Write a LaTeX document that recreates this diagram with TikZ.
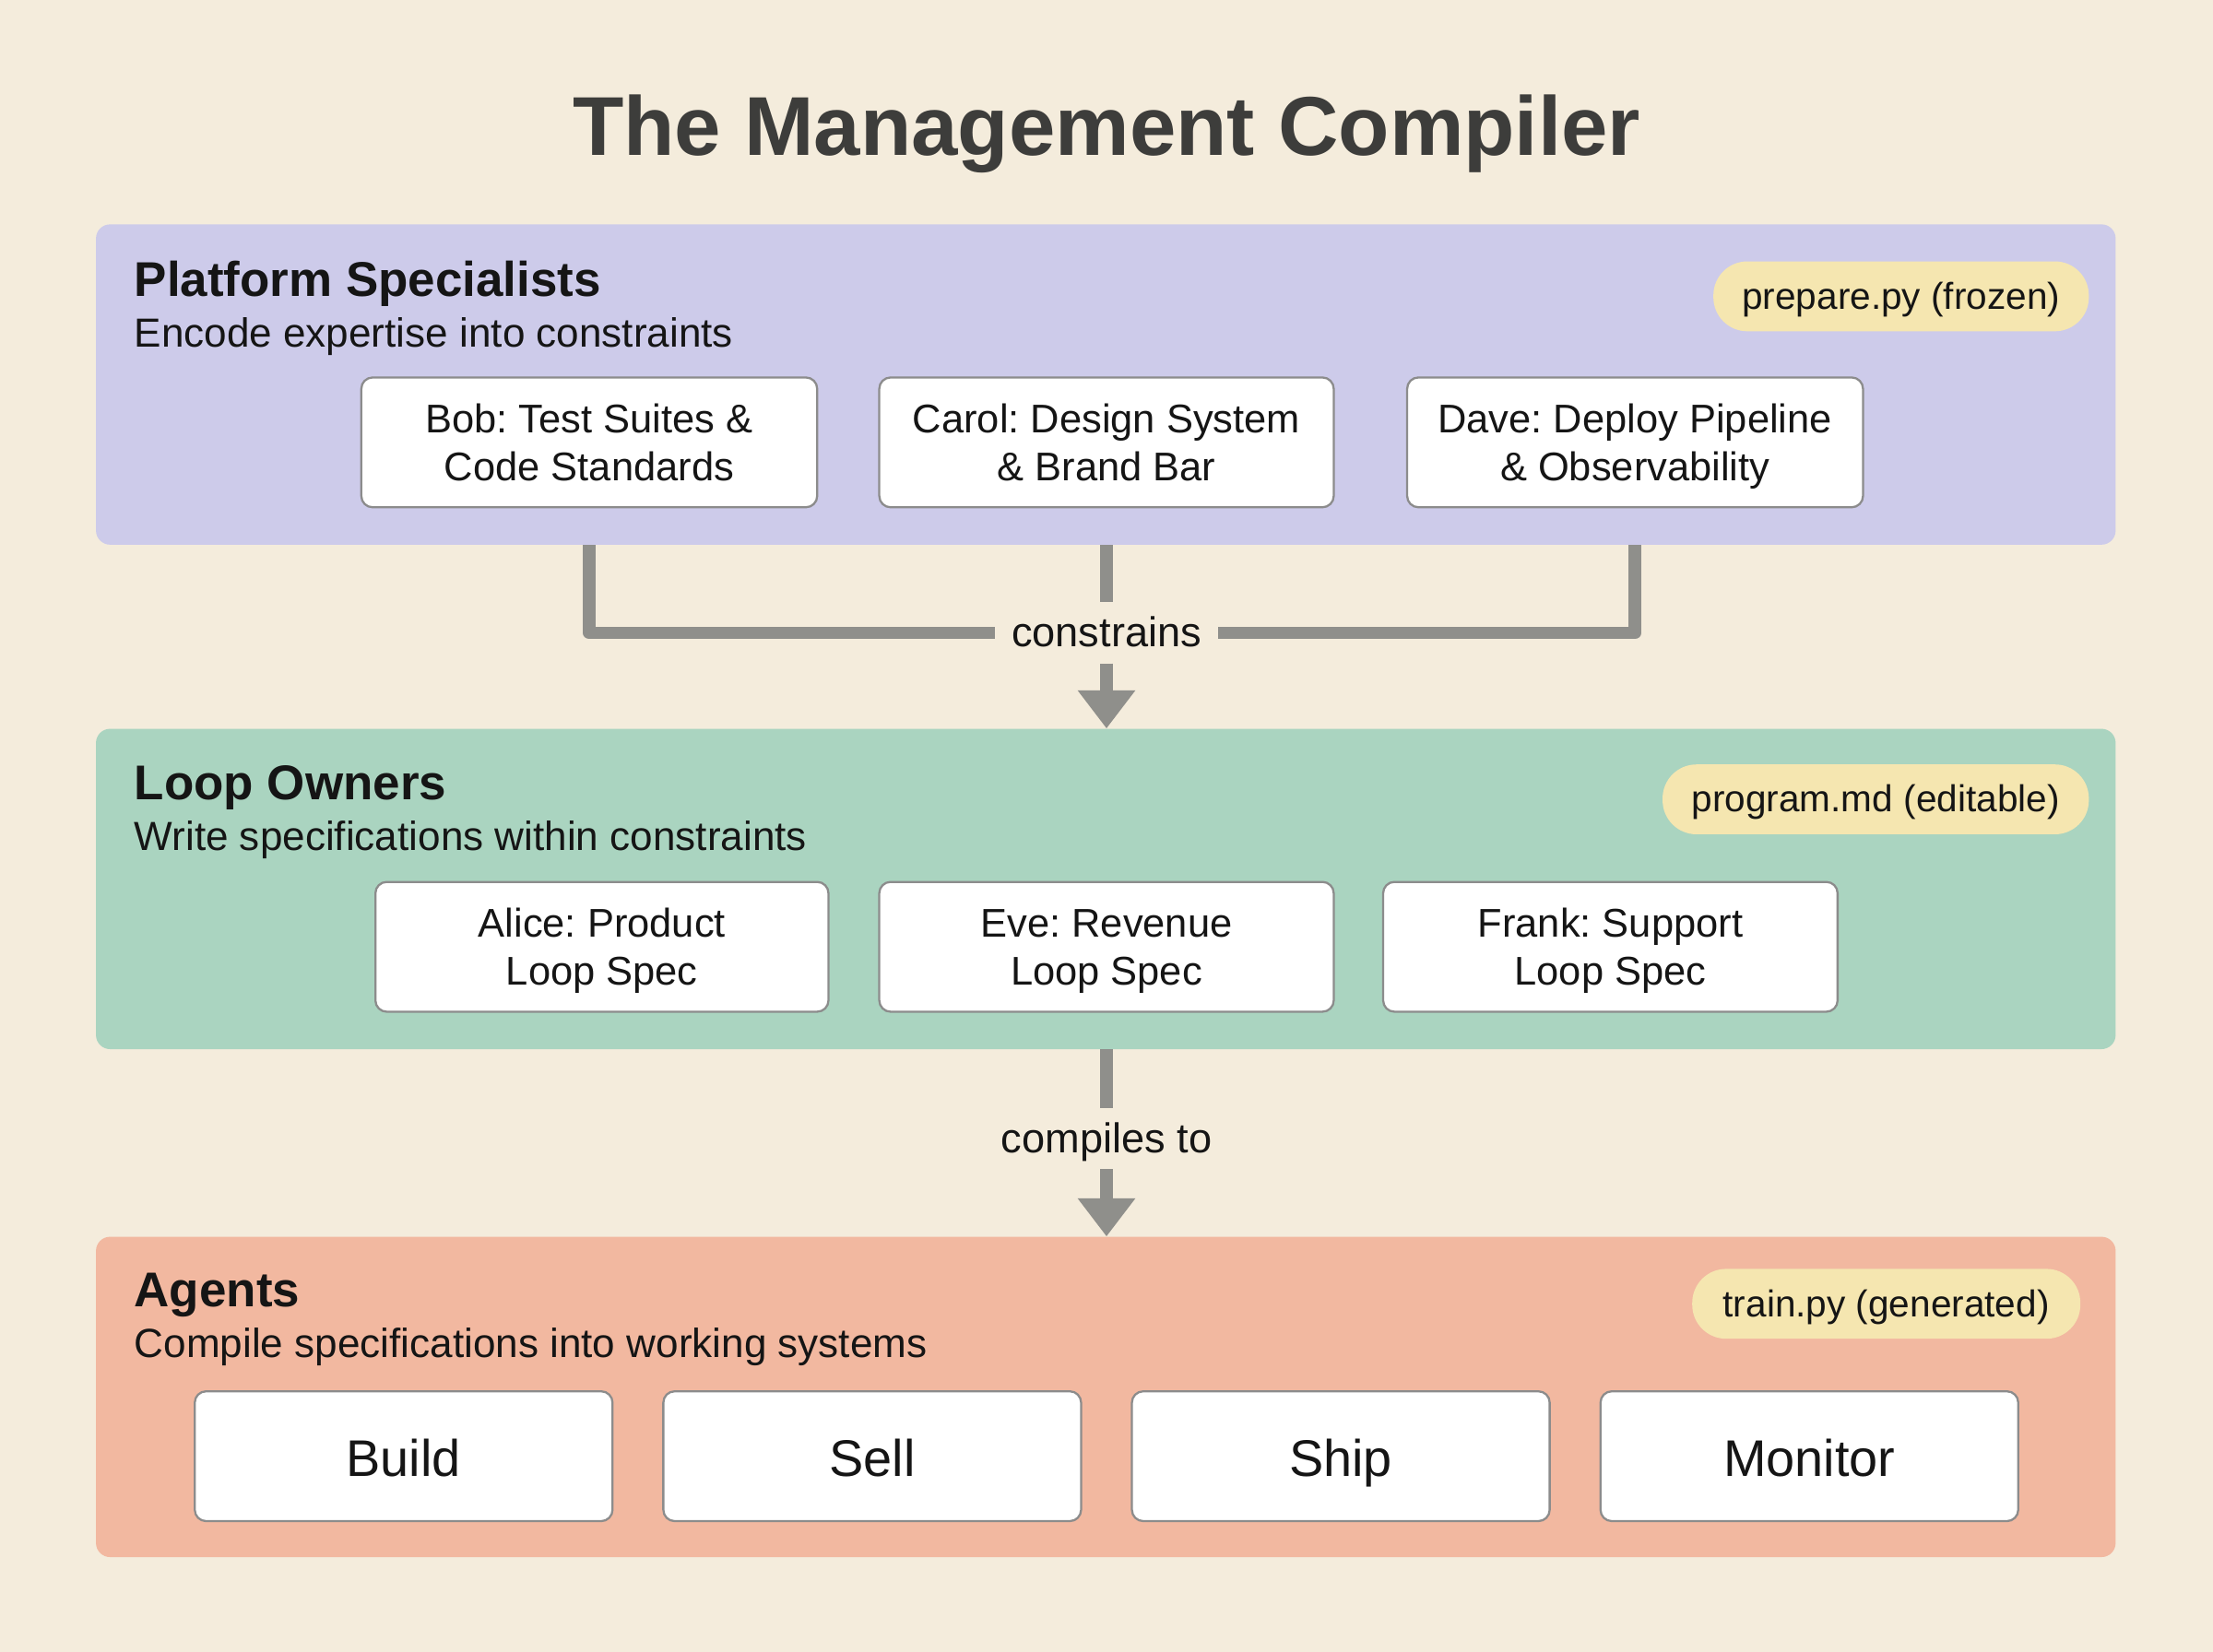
\documentclass[tikz,border=0pt]{standalone}
\usepackage{fontspec}
\setmainfont{Liberation Sans}
\usetikzlibrary{arrows.meta}
\frenchspacing
\definecolor{pagebg}{HTML}{F4ECDC}
\definecolor{bandviolet}{HTML}{CDCBEA}
\definecolor{bandgreen}{HTML}{AAD4C0}
\definecolor{bandsalmon}{HTML}{F2B8A0}
\definecolor{pillyellow}{HTML}{F5E6B0}
\definecolor{flowgray}{HTML}{8F8F8B}
\definecolor{boxgray}{HTML}{8C8C8C}
\definecolor{inkdark}{HTML}{151515}
\definecolor{titleink}{HTML}{3D3D3B}
\begin{document}
\begin{tikzpicture}
[every node/.style={inner sep=0pt, text=inkdark},
 band/.style={rectangle, rounded corners=10pt, minimum width=1431pt, minimum height=227pt},
 heading/.style={anchor=base west, font=\fontsize{34.6}{40}\selectfont\bfseries},
 subheading/.style={anchor=base west, font=\fontsize{28.8}{32}\selectfont},
 pill/.style={rectangle, rounded corners=24pt, fill=pillyellow, minimum height=49.5pt, text height=24pt, text depth=6pt, font=\fontsize{26.5}{30}\selectfont},
 member/.style={rectangle, rounded corners=8pt, fill=white, draw=boxgray, line width=1.5pt, minimum height=92pt, text height=54pt, text depth=0pt, align=center, font=\fontsize{28.4}{34}\selectfont},
 stage/.style={member, minimum width=296pt, text height=28pt, font=\fontsize{36.5}{42}\selectfont},
 flowlabel/.style={rectangle, minimum height=43pt, text height=20pt, text depth=0pt, font=\fontsize{29.5}{32}\selectfont},
 flow/.style={line width=9pt, line join=round, color=flowgray},
 flowtip/.style={flow, -{Triangle[width=39pt, length=27pt]}}]
\fill [pagebg] (0pt, 0pt) rectangle (1568pt, -1170.67pt);
\useasboundingbox (0pt, 0pt) rectangle (1568pt, -1170.67pt);
\node (title) [anchor=base, font=\fontsize{59.2}{64}\selectfont\bfseries, text=titleink] at (784pt, -110pt) {The Management Compiler};
% bands
\node (platform) [band, fill=bandviolet] at (783.5pt, -272.5pt) {};
\node (owners) [band, fill=bandgreen] at (783.5pt, -630pt) {};
\node (agents) [band, fill=bandsalmon] at (783.5pt, -990pt) {};
\node (platformhead) [heading] at (95pt, -210pt) {Platform Specialists};
\node (platformsub) [subheading] at (95pt, -246pt) {Encode expertise into constraints};
\node (ownershead) [heading] at (95pt, -567pt) {Loop Owners};
\node (ownerssub) [subheading] at (95pt, -603pt) {Write specifications within constraints};
\node (agentshead) [heading] at (95pt, -926pt) {Agents};
\node (agentssub) [subheading] at (95pt, -962pt) {Compile specifications into working systems};
\node (prepare) [pill, minimum width=266pt] at (1347pt, -210pt) {prepare.py (frozen)};
\node (program) [pill, minimum width=302pt] at (1329pt, -566.5pt) {program.md (editable)};
\node (train) [pill, minimum width=275pt] at (1336.5pt, -924pt) {train.py (generated)};
% people
\node (bob) [member, minimum width=323pt] at (417.5pt, -313.5pt) {Bob: Test Suites \&\\Code Standards};
\node (carol) [member, minimum width=322pt] at (784pt, -313.5pt) {Carol: Design System\\\& Brand Bar};
\node (dave) [member, minimum width=323pt] at (1158.5pt, -313.5pt) {Dave: Deploy Pipeline\\\& Observability};
\node (alice) [member, minimum width=321pt] at (426.5pt, -671pt) {Alice: Product\\Loop Spec};
\node (eve) [member, minimum width=322pt] at (784pt, -671pt) {Eve: Revenue\\Loop Spec};
\node (frank) [member, minimum width=322pt] at (1141pt, -671pt) {Frank: Support\\Loop Spec};
\node (build) [stage] at (286pt, -1032pt) {Build};
\node (sell) [stage] at (618pt, -1032pt) {Sell};
\node (ship) [stage] at (950pt, -1032pt) {Ship};
\node (monitor) [stage] at (1282pt, -1032pt) {Monitor};
% flow labels
\node (constrains) [flowlabel, minimum width=158pt] at (784pt, -448.5pt) {constrains};
\node (compiles) [flowlabel, minimum width=150pt] at (784pt, -807pt) {compiles to};
% connectors
\draw [flow] (platform.south -| bob) |- (constrains);
\draw [flow] (platform.south -| dave) |- (constrains);
\draw [flow] (platform.south -| constrains) to (constrains);
\draw [flowtip] (constrains) to (owners.north -| constrains);
\draw [flow] (owners.south -| compiles) to (compiles);
\draw [flowtip] (compiles) to (agents.north -| compiles);
\end{tikzpicture}
\end{document}
